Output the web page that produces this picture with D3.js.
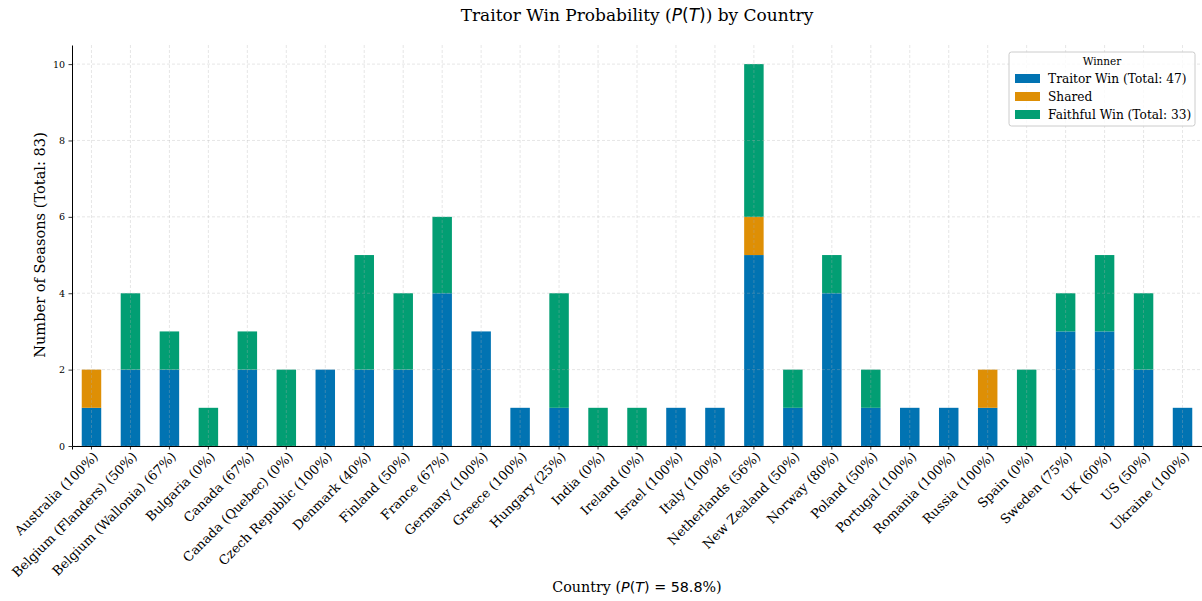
<!DOCTYPE html>
<html><head><meta charset="utf-8">
<script src="https://cdn.jsdelivr.net/npm/d3@7"></script>
<style>
body{margin:0;background:#fff;}
text{font-family:"DejaVu Serif",serif;fill:#000;}
</style></head>
<body><svg id="c" width="1202" height="601"></svg>
<script>
const countries = ["Australia (100%)","Belgium (Flanders) (50%)","Belgium (Wallonia) (67%)","Bulgaria (0%)","Canada (67%)","Canada (Quebec) (0%)","Czech Republic (100%)","Denmark (40%)","Finland (50%)","France (67%)","Germany (100%)","Greece (100%)","Hungary (25%)","India (0%)","Ireland (0%)","Israel (100%)","Italy (100%)","Netherlands (56%)","New Zealand (50%)","Norway (80%)","Poland (50%)","Portugal (100%)","Romania (100%)","Russia (100%)","Spain (0%)","Sweden (75%)","UK (60%)","US (50%)","Ukraine (100%)"];
const traitorWin = [1,2,2,0,2,0,2,2,2,4,3,1,1,0,0,1,1,5,1,4,1,1,1,1,0,3,3,2,1];
const shared     = [1,0,0,0,0,0,0,0,0,0,0,0,0,0,0,0,0,1,0,0,0,0,0,1,0,0,0,0,0];
const faithfulWin= [0,2,1,1,1,2,0,3,2,2,0,0,3,1,1,0,0,4,1,1,1,0,0,0,2,1,2,2,0];
const seriesNames = ["Traitor Win (Total: 47)","Shared","Faithful Win (Total: 33)"];
const colors = ["#0173b2","#de8f05","#029e73"];
const yTicks = [0,2,4,6,8,10];

const svg = d3.select("#c");
const m = {l:72, r:0, t:45, b:446};
const x = d3.scaleBand().domain(countries).range([m.l, 1202]).paddingInner(0.5).paddingOuter(0.25);
const y = d3.scaleLinear().domain([0,10.5]).range([m.b, m.t]);

const rows = countries.map((c,i)=>({c, t:traitorWin[i], s:shared[i], f:faithfulWin[i]}));
const stack = d3.stack().keys(["t","s","f"])(rows);

const g = svg.append("g");
stack.forEach((layer,k)=>{
  g.selectAll(null).data(layer).join("rect")
    .attr("x", d=>x(d.data.c))
    .attr("width", x.bandwidth())
    .attr("y", d=>y(d[1]))
    .attr("height", d=>y(d[0])-y(d[1]))
    .attr("fill", colors[k]);
});

// grid on top
const grid = svg.append("g").attr("stroke","#b0b0b0").attr("stroke-opacity",0.4).attr("stroke-dasharray","3,2").attr("stroke-width",0.8);
countries.forEach(c=>{
  const cx = x(c)+x.bandwidth()/2;
  grid.append("line").attr("x1",cx).attr("x2",cx).attr("y1",m.t).attr("y2",m.b);
});
yTicks.forEach(t=>{
  grid.append("line").attr("x1",m.l).attr("x2",1202).attr("y1",y(t)).attr("y2",y(t));
});

// axes
const xAxis = svg.append("g").attr("transform",`translate(0,${m.b})`)
  .call(d3.axisBottom(x).tickSizeOuter(0).tickSize(3.5));
xAxis.select(".domain").attr("stroke","#000").attr("stroke-width",1);
xAxis.selectAll(".tick line").attr("stroke","#000").attr("stroke-width",0.8);
xAxis.selectAll(".tick text")
  .style("font-family","DejaVu Serif").style("font-size","13px")
  .attr("text-anchor","end").attr("dy",null).attr("y",null)
  .attr("transform","translate(5,9) rotate(-45)").attr("dominant-baseline","middle");

const yAxis = svg.append("g").attr("transform",`translate(${m.l},0)`)
  .call(d3.axisLeft(y).tickValues(yTicks).tickSize(3.5).tickSizeOuter(0).tickFormat(d3.format("d")));
yAxis.select(".domain").attr("stroke","#000").attr("stroke-width",1);
yAxis.selectAll(".tick line").attr("stroke","#000").attr("stroke-width",0.8);
yAxis.selectAll(".tick text").style("font-family","DejaVu Serif").style("font-size","9.5px").attr("x",-7);

function mathLabel(sel, pre, post){
  sel.append("tspan").text(pre);
  sel.append("tspan").text("P").style("font-family","DejaVu Sans").style("font-style","italic");
  sel.append("tspan").text("(").style("font-family","DejaVu Sans");
  sel.append("tspan").text("T").style("font-family","DejaVu Sans").style("font-style","italic");
  sel.append("tspan").text(")").style("font-family","DejaVu Sans");
  sel.append("tspan").text(post);
}
// title
const title = svg.append("text").attr("x",637).attr("y",21).attr("text-anchor","middle").style("font-size","17px");
mathLabel(title, "Traitor Win Probability (", ") by Country");
// x label
const xl = svg.append("text").attr("x",637).attr("y",592).attr("text-anchor","middle").style("font-size","14.3px");
xl.append("tspan").text("Country (");
xl.append("tspan").text("P").style("font-family","DejaVu Sans").style("font-style","italic");
xl.append("tspan").text("(").style("font-family","DejaVu Sans");
xl.append("tspan").text("T").style("font-family","DejaVu Sans").style("font-style","italic");
xl.append("tspan").text(") = 58.8").style("font-family","DejaVu Sans");
xl.append("tspan").text("%)");
// y label
svg.append("text").attr("transform","translate(45,245) rotate(-90)").attr("text-anchor","middle").style("font-size","14.6px").text("Number of Seasons (Total: 83)");

// legend
const lg = svg.append("g").attr("transform","translate(1009,52)");
lg.append("rect").attr("width",186).attr("height",74).attr("rx",2.5).attr("fill","#fff").attr("fill-opacity",0.8).attr("stroke","#ccc").attr("stroke-width",1);
lg.append("text").attr("x",93).attr("y",13).attr("text-anchor","middle").style("font-size","10.5px").text("Winner");
seriesNames.forEach((n,i)=>{
  lg.append("rect").attr("x",6).attr("y",22+i*18).attr("width",25).attr("height",9).attr("fill",colors[i]);
  lg.append("text").attr("x",39).attr("y",30.5+i*18).style("font-size","12.2px").text(n);
});
</script></body></html>
